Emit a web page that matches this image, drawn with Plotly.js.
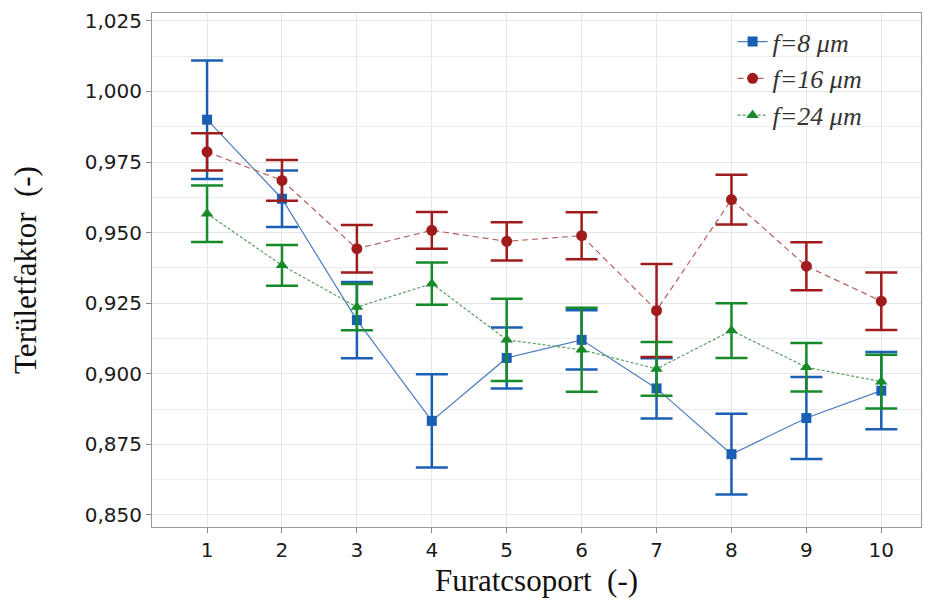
<!DOCTYPE html>
<html><head><meta charset="utf-8">
<script src="https://cdn.plot.ly/plotly-3.0.1.min.js"></script>
<style>html,body{margin:0;padding:0;background:#fff}</style>
</head><body><div id="chart" style="width:925px;height:601px"></div>
<script>
const groups = [1,2,3,4,5,6,7,8,9,10];
const f8 = [0.990,0.962,0.919,0.8833,0.9056,0.912,0.8948,0.8715,0.8843,0.894];
const f8err = [0.0210,0.0100,0.0135,0.0165,0.0108,0.0105,0.0107,0.0143,0.0145,0.0137];
const f16 = [0.9786,0.9685,0.9443,0.9508,0.9469,0.9489,0.9224,0.9617,0.9381,0.9257];
const f16err = [0.0066,0.0072,0.0084,0.0065,0.0068,0.0083,0.0165,0.0088,0.0085,0.0102];
const f24 = [0.9567,0.9384,0.9236,0.9319,0.912,0.9085,0.9017,0.9153,0.9023,0.8972];
const f24err = [0.0100,0.0072,0.0082,0.0075,0.0146,0.0149,0.0095,0.0097,0.0086,0.0095];
const names = ['f=8 μm','f=16 μm','f=24 μm'];
const yTicks = [0.850,0.875,0.900,0.925,0.950,0.975,1.000,1.025];

function tr(y, e, name, col, lineCol, dash, sym, size){
  return {x: groups, y: y, name: name, type:'scatter', mode:'lines+markers',
    line:{color:lineCol, width:1.2, dash:dash},
    marker:{color:col, symbol:sym, size:size},
    error_y:{type:'data', array:e, visible:true, color:col, thickness:2.5, width:16}};
}
const data = [
  tr(f8, f8err, names[0], '#1a5fb4', '#4f7cc0', 'solid', 'square', 10),
  tr(f16, f16err, names[1], '#a01c1c', '#b86060', '6px,4px', 'circle', 11),
  tr(f24, f24err, names[2], '#178a2a', '#5a9e64', '3px,2px', 'triangle-up', 11)
];
const layout = {
  width:925, height:601, separators:',.',
  margin:{l:152, r:4, t:13, b:74},
  paper_bgcolor:'#fff', plot_bgcolor:'#fff',
  showlegend:true,
  legend:{x:0.755, y:0.99, xanchor:'left', yanchor:'top', bgcolor:'rgba(255,255,255,0)',
    font:{family:'Liberation Serif, serif', size:26, color:'#333', style:'italic'}, tracegroupgap:0},
  xaxis:{range:[0.265,10.53], tickvals:groups, ticks:'outside', ticklen:5, tickcolor:'#888',
    showline:true, mirror:true, linecolor:'#999', linewidth:1,
    showgrid:true, gridcolor:'#e6e6e6', zeroline:false,
    tickfont:{family:'DejaVu Sans, sans-serif', size:20, color:'#1a1a1a'},
    title:{text:'Furatcsoport  (-)', font:{family:'Liberation Serif, serif', size:31, color:'#111'}, standoff:8}},
  yaxis:{range:[0.8457,1.0278], tickvals:yTicks, tickformat:'.3f', ticks:'outside', ticklen:5, tickcolor:'#888',
    showline:true, mirror:true, linecolor:'#999', linewidth:1,
    showgrid:true, gridcolor:'#e6e6e6', zeroline:false,
    minor:{dtick:0.0125, tick0:0.85, showgrid:true, gridcolor:'#ededed', ticks:''},
    tickfont:{family:'DejaVu Sans, sans-serif', size:20, color:'#1a1a1a'},
    title:{text:'Területfaktor  (-)', font:{family:'Liberation Serif, serif', size:31, color:'#111'}, standoff:38}}
};
Plotly.newPlot('chart', data, layout, {displayModeBar:false});
</script></body></html>
